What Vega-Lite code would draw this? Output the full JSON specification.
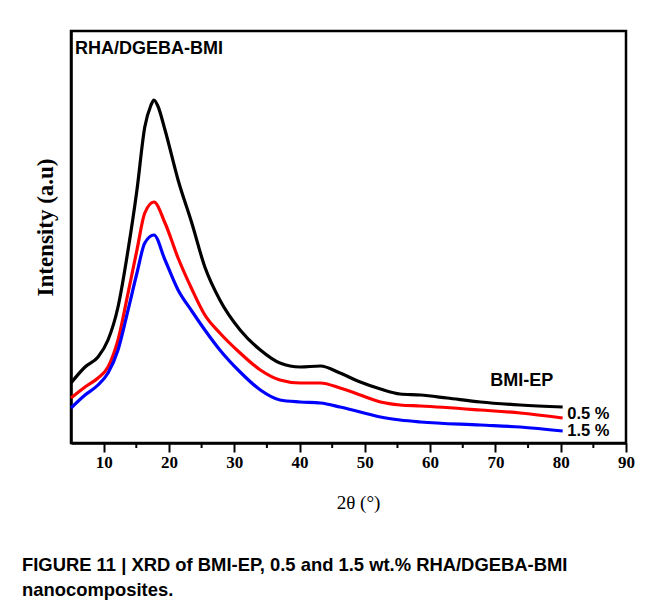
{
  "$schema": "https://vega.github.io/schema/vega-lite/v6.json",
  "width": 555,
  "height": 412,
  "autosize": {"type": "none"},
  "padding": {"left": 71, "top": 31, "right": 29, "bottom": 167},
  "background": "white",
  "config": {"view": {"stroke": "black", "strokeWidth": 2.5}},
  "title": {
    "text": ["FIGURE 11 | XRD of BMI-EP, 0.5 and 1.5 wt.% RHA/DGEBA-BMI", "nanocomposites."],
    "orient": "bottom",
    "anchor": "start",
    "frame": "group",
    "font": "Liberation Sans",
    "fontSize": 18.4,
    "fontWeight": "bold",
    "color": "black",
    "lineHeight": 25,
    "dx": -49,
    "offset": 44
  },
  "datasets": {
    "curves": [
      {"series": "BMI-EP", "x": 5, "y": 61},
      {"series": "BMI-EP", "x": 7.15, "y": 77},
      {"series": "BMI-EP", "x": 9.14, "y": 87},
      {"series": "BMI-EP", "x": 10.67, "y": 104},
      {"series": "BMI-EP", "x": 12.2, "y": 137},
      {"series": "BMI-EP", "x": 13.74, "y": 194},
      {"series": "BMI-EP", "x": 15.1, "y": 254},
      {"series": "BMI-EP", "x": 16.3, "y": 317},
      {"series": "BMI-EP", "x": 17.2, "y": 338},
      {"series": "BMI-EP", "x": 17.7, "y": 344},
      {"series": "BMI-EP", "x": 18.3, "y": 338},
      {"series": "BMI-EP", "x": 19.4, "y": 314},
      {"series": "BMI-EP", "x": 21.4, "y": 264},
      {"series": "BMI-EP", "x": 23.5, "y": 221},
      {"series": "BMI-EP", "x": 25.5, "y": 177},
      {"series": "BMI-EP", "x": 27.8, "y": 144},
      {"series": "BMI-EP", "x": 30.9, "y": 114},
      {"series": "BMI-EP", "x": 34.0, "y": 94},
      {"series": "BMI-EP", "x": 37.0, "y": 81},
      {"series": "BMI-EP", "x": 40.1, "y": 77},
      {"series": "BMI-EP", "x": 43.2, "y": 78},
      {"series": "BMI-EP", "x": 46.2, "y": 71},
      {"series": "BMI-EP", "x": 49.3, "y": 62},
      {"series": "BMI-EP", "x": 52.4, "y": 55},
      {"series": "BMI-EP", "x": 55.4, "y": 50},
      {"series": "BMI-EP", "x": 58.5, "y": 49},
      {"series": "BMI-EP", "x": 62.6, "y": 46},
      {"series": "BMI-EP", "x": 67.7, "y": 42},
      {"series": "BMI-EP", "x": 73.8, "y": 39},
      {"series": "BMI-EP", "x": 80.3, "y": 37},
      {"series": "0.5 %", "x": 5, "y": 46},
      {"series": "0.5 %", "x": 7.15, "y": 57},
      {"series": "0.5 %", "x": 9.14, "y": 66},
      {"series": "0.5 %", "x": 10.67, "y": 77},
      {"series": "0.5 %", "x": 12.2, "y": 104},
      {"series": "0.5 %", "x": 13.74, "y": 151},
      {"series": "0.5 %", "x": 15.1, "y": 194},
      {"series": "0.5 %", "x": 16.3, "y": 231},
      {"series": "0.5 %", "x": 17.7, "y": 242},
      {"series": "0.5 %", "x": 19.4, "y": 221},
      {"series": "0.5 %", "x": 21.4, "y": 186},
      {"series": "0.5 %", "x": 23.5, "y": 155},
      {"series": "0.5 %", "x": 25.5, "y": 129},
      {"series": "0.5 %", "x": 27.8, "y": 111},
      {"series": "0.5 %", "x": 30.9, "y": 91},
      {"series": "0.5 %", "x": 34.0, "y": 74},
      {"series": "0.5 %", "x": 37.0, "y": 64},
      {"series": "0.5 %", "x": 40.1, "y": 61},
      {"series": "0.5 %", "x": 43.2, "y": 61},
      {"series": "0.5 %", "x": 46.2, "y": 56},
      {"series": "0.5 %", "x": 49.3, "y": 49},
      {"series": "0.5 %", "x": 52.4, "y": 42},
      {"series": "0.5 %", "x": 55.4, "y": 39},
      {"series": "0.5 %", "x": 58.5, "y": 38},
      {"series": "0.5 %", "x": 67.7, "y": 34},
      {"series": "0.5 %", "x": 73.8, "y": 31},
      {"series": "0.5 %", "x": 80.3, "y": 26},
      {"series": "1.5 %", "x": 5, "y": 36},
      {"series": "1.5 %", "x": 7.15, "y": 49},
      {"series": "1.5 %", "x": 9.14, "y": 59},
      {"series": "1.5 %", "x": 10.67, "y": 71},
      {"series": "1.5 %", "x": 12.2, "y": 94},
      {"series": "1.5 %", "x": 13.74, "y": 134},
      {"series": "1.5 %", "x": 15.1, "y": 171},
      {"series": "1.5 %", "x": 16.3, "y": 201},
      {"series": "1.5 %", "x": 17.7, "y": 209},
      {"series": "1.5 %", "x": 19.4, "y": 184},
      {"series": "1.5 %", "x": 21.4, "y": 154},
      {"series": "1.5 %", "x": 23.5, "y": 133},
      {"series": "1.5 %", "x": 25.5, "y": 114},
      {"series": "1.5 %", "x": 27.8, "y": 94},
      {"series": "1.5 %", "x": 30.9, "y": 72},
      {"series": "1.5 %", "x": 34.0, "y": 54},
      {"series": "1.5 %", "x": 37.0, "y": 44},
      {"series": "1.5 %", "x": 40.1, "y": 42},
      {"series": "1.5 %", "x": 43.2, "y": 41},
      {"series": "1.5 %", "x": 46.2, "y": 37},
      {"series": "1.5 %", "x": 49.3, "y": 32},
      {"series": "1.5 %", "x": 52.4, "y": 27},
      {"series": "1.5 %", "x": 55.4, "y": 24},
      {"series": "1.5 %", "x": 58.5, "y": 22},
      {"series": "1.5 %", "x": 67.7, "y": 19},
      {"series": "1.5 %", "x": 73.8, "y": 17},
      {"series": "1.5 %", "x": 80.3, "y": 13}
    ],
    "labels": [
      {"label": "RHA/DGEBA-BMI", "x": 5.6, "y": 395, "size": "big"},
      {"label": "BMI-EP", "x": 69.2, "y": 63, "size": "big"},
      {"label": "0.5 %", "x": 81.0, "y": 30, "size": "small"},
      {"label": "1.5 %", "x": 81.0, "y": 13, "size": "small"}
    ],
    "minor": [
      {"v": 15}, {"v": 25}, {"v": 35}, {"v": 45}, {"v": 55}, {"v": 65}, {"v": 75}, {"v": 85}
    ]
  },
  "layer": [
    {
      "data": {"name": "curves"},
      "mark": {"type": "line", "strokeWidth": 3.2, "interpolate": "monotone"},
      "encoding": {
        "x": {
          "field": "x",
          "type": "quantitative",
          "scale": {"domain": [5, 90], "nice": false, "zero": false},
          "axis": {
            "values": [10, 20, 30, 40, 50, 60, 70, 80, 90],
            "ticks": true,
            "tickSize": 9,
            "tickWidth": 2,
            "tickColor": "black",
            "domainColor": "black",
            "domainWidth": 2.5,
            "grid": false,
            "labelFont": "Liberation Serif",
            "labelFontWeight": "bold",
            "labelFontSize": 17,
            "labelColor": "black",
            "labelPadding": 2,
            "labelFlush": false,
            "labelOverlap": false,
            "title": "2θ (°)",
            "titleFont": "Liberation Serif",
            "titleFontSize": 19,
            "titleFontWeight": "normal",
            "titleColor": "black",
            "titleX": 287,
            "titleY": 59,
            "titleBaseline": "middle",
            "titleAlign": "center"
          }
        },
        "y": {
          "field": "y",
          "type": "quantitative",
          "scale": {"domain": [1, 413], "nice": false, "zero": false},
          "axis": {
            "labels": false,
            "ticks": false,
            "grid": false,
            "domainColor": "black",
            "domainWidth": 2.5,
            "title": "Intensity (a.u)",
            "titleFont": "Liberation Serif",
            "titleFontSize": 23,
            "titleFontWeight": "bold",
            "titleColor": "black",
            "titleX": -26,
            "titleY": 196,
            "titleAngle": -90,
            "titleBaseline": "middle",
            "titleAlign": "center"
          }
        },
        "color": {
          "field": "series",
          "type": "nominal",
          "scale": {"domain": ["BMI-EP", "0.5 %", "1.5 %"], "range": ["#000000", "#ff0000", "#0000ff"]},
          "legend": null
        }
      }
    },
    {
      "data": {"name": "minor"},
      "mark": {"type": "rule", "color": "black", "strokeWidth": 2},
      "encoding": {
        "x": {"field": "v", "type": "quantitative"},
        "y": {"datum": 1},
        "y2": {"datum": -4}
      }
    },
    {
      "data": {"name": "labels"},
      "mark": {"type": "text", "align": "left", "baseline": "middle", "font": "Liberation Sans", "fontWeight": "bold", "color": "black"},
      "encoding": {
        "x": {"field": "x", "type": "quantitative"},
        "y": {"field": "y", "type": "quantitative"},
        "text": {"field": "label"},
        "size": {"field": "size", "type": "nominal", "scale": {"domain": ["big", "small"], "range": [18, 16.5]}, "legend": null}
      }
    }
  ]
}
